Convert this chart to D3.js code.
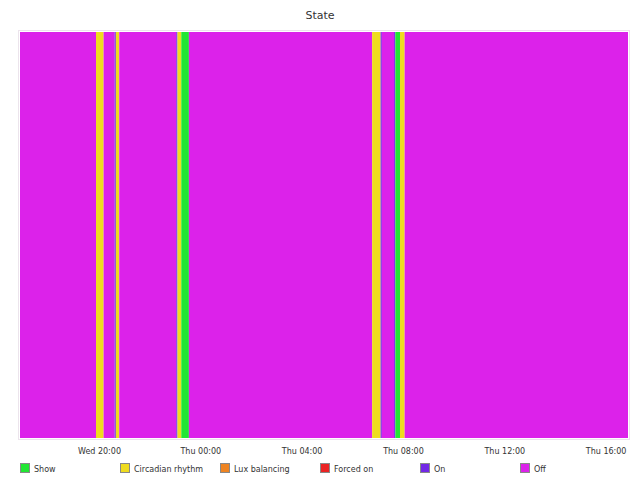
<!DOCTYPE html>
<html>
<head>
<meta charset="utf-8">
<script src="https://cdn.jsdelivr.net/npm/d3@7/dist/d3.min.js"></script>
<style>
  html, body { margin: 0; padding: 0; background: #fff; }
  svg { display: block; }
  text { font-family: "DejaVu Sans", sans-serif; }
</style>
</head>
<body>
<svg id="chart" width="640" height="480"></svg>
<script>
// ---- data ----
const title = "State";
const stateNames = ["Show", "Circadian rhythm", "Lux balancing", "Forced on", "On", "Off"];
// segment boundaries (Wed 17 Jan 2024 -> Thu 18 Jan 2024), each segment runs to the next boundary
const segBounds = [
  "2024-01-17 16:53", "2024-01-17 19:53", "2024-01-17 20:11", "2024-01-17 20:37",
  "2024-01-17 20:40", "2024-01-17 20:48", "2024-01-17 23:03", "2024-01-17 23:06",
  "2024-01-17 23:15", "2024-01-17 23:33", "2024-01-18 06:47", "2024-01-18 07:07",
  "2024-01-18 07:10", "2024-01-18 07:39", "2024-01-18 07:42", "2024-01-18 07:53",
  "2024-01-18 08:04", "2024-01-18 16:53"
];
const segStates = [
  "Off", "Circadian rhythm", "Off", "On", "Circadian rhythm", "Off", "On",
  "Circadian rhythm", "Show", "Off", "Circadian rhythm", "On", "Off", "On",
  "Show", "Circadian rhythm", "Off"
];
const tickFormatStr = "%a %H:%M";

// ---- styles ----
const stateColors = ["#22e634", "#efdc1f", "#ee8422", "#ea2424", "#7228e6", "#dc22ea"];

const parse = d3.timeParse("%Y-%m-%d %H:%M");
const bounds = segBounds.map(parse);
const segments = segStates.map((s, i) => ({ state: s, start: bounds[i], end: bounds[i + 1] }));

const svg = d3.select("#chart");
const plotL = 20, plotR = 628, plotT = 32, plotB = 438;

const x = d3.scaleTime().domain([bounds[0], bounds[bounds.length - 1]]).range([plotL, plotR]);
const color = d3.scaleOrdinal().domain(stateNames).range(stateColors);

// title
svg.append("text")
  .attr("x", 320).attr("y", 19)
  .attr("text-anchor", "middle")
  .attr("font-size", 11)
  .attr("fill", "#333")
  .text(title);

// frame
svg.append("rect")
  .attr("x", plotL - 1.5).attr("y", plotT - 1.5)
  .attr("width", plotR - plotL + 3).attr("height", plotB - plotT + 3)
  .attr("fill", "none").attr("stroke", "#ece4ec").attr("stroke-width", 1);

// segments
svg.append("g").selectAll("rect")
  .data(segments)
  .join("rect")
  .attr("x", d => x(d.start))
  .attr("y", plotT)
  .attr("width", d => Math.max(0, x(d.end) - x(d.start)))
  .attr("height", plotB - plotT)
  .attr("fill", d => color(d.state));

// x axis
const axis = d3.axisBottom(x)
  .ticks(d3.timeHour.every(4))
  .tickFormat(d3.timeFormat(tickFormatStr))
  .tickSize(0)
  .tickPadding(9);
const gx = svg.append("g").attr("transform", `translate(0,${plotB + 1})`).call(axis);
gx.select(".domain").remove();
gx.selectAll("text")
  .attr("font-family", "DejaVu Sans, sans-serif")
  .attr("font-size", 8)
  .attr("fill", "#333");

// legend
const legend = svg.append("g").selectAll("g")
  .data(stateNames)
  .join("g")
  .attr("transform", (d, i) => `translate(${20 + i * 100},463)`);
legend.append("rect")
  .attr("x", 0.5).attr("y", 0.5)
  .attr("width", 9).attr("height", 9)
  .attr("fill", d => color(d))
  .attr("stroke", "#888").attr("stroke-width", 1);
legend.append("text")
  .attr("x", 14).attr("y", 8.5)
  .attr("font-size", 8)
  .attr("fill", "#333")
  .text(d => d);
</script>
</body>
</html>
